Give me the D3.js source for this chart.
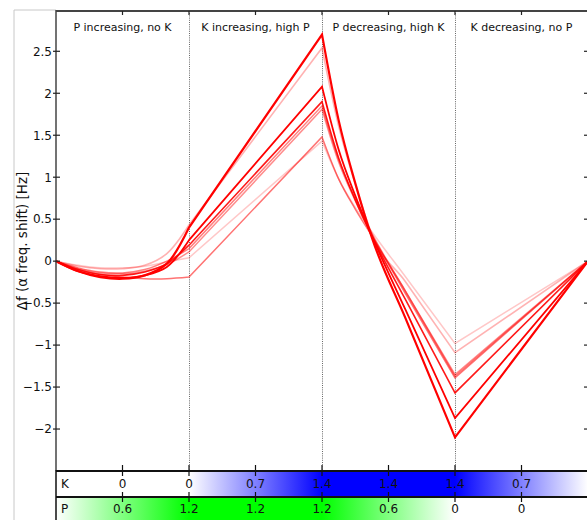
<!DOCTYPE html>
<html><head><meta charset="utf-8">
<script src="https://cdn.jsdelivr.net/npm/d3@7"></script>
<style>body{margin:0;background:#fff;}svg{display:block;font-family:"DejaVu Sans",sans-serif;}</style>
</head><body><svg id="c" width="587" height="520"></svg>
<script>
// ---- data ----
const phaseLabels = ["P increasing, no K","K increasing, high P","P decreasing, high K","K decreasing, no P"];
const stepT = [0,1,2,3,4,5,6,7,8];
const kValues = [0,0,0,0.7,1.4,1.4,1.4,0.7,0];
const pValues = [0,0.6,1.2,1.2,1.2,0.6,0,0,0];
const labelSteps = [1,2,3,4,5,6,7];
const yTicks = [-2,-1.5,-1,-0.5,0,0.5,1,1.5,2,2.5];
// segment 1 sampled at t = 0, 1/3, 2/3, 1, 4/3, 5/3, 2
const seg1T = [0,1/3,2/3,1,4/3,5/3,2];
const seriesNames = ["A","B","C","D","E","F","G","H"];
const seg1Values = [
  [0,-0.12,-0.19,-0.21,-0.17,-0.03,0.40],
  [0,-0.06,-0.09,-0.09,-0.05,0.09,0.43],
  [0,-0.12,-0.18,-0.20,-0.17,-0.07,0.25],
  [0,-0.10,-0.16,-0.17,-0.13,-0.03,0.19],
  [0,-0.08,-0.13,-0.14,-0.10,0.00,0.15],
  [0,-0.09,-0.14,-0.15,-0.12,-0.04,0.11],
  [0,-0.05,-0.08,-0.08,-0.06,-0.01,0.04],
  [0,-0.10,-0.16,-0.19,-0.21,-0.21,-0.19]
];
const peakValues = [2.70,2.54,2.08,1.90,1.85,1.81,1.43,1.48];
// segment 3 sampled at t = 4.25, 4.5, 4.75, 5.25
const seg3T = [4.25,4.5,4.75,5.25];
const seg3Values = [
  [1.68,0.93,0.28,-0.67],
  [1.61,0.92,0.32,-0.24],
  [1.33,0.78,0.30,-0.57],
  [1.23,0.73,0.30,-0.45],
  [1.21,0.74,0.33,-0.35],
  [1.18,0.72,0.31,-0.35],
  [0.98,0.64,0.35,-0.18],
  [0.98,0.62,0.30,-0.38]
];
const troughValues = [-2.10,-1.09,-1.87,-1.57,-1.37,-1.35,-0.98,-1.39];
const endValues = [0,0,0,0,0,0,0,0];
const seriesOpacity = [1,0.3,1,0.9,0.5,0.45,0.22,0.55];
const seriesWidth = [2.2,1.6,1.8,1.6,1.5,1.5,1.5,1.5];

// ---- layout ----
const svg = d3.select("#c");
const L=56, R=588, T=11, B=471;
const x = d3.scaleLinear().domain([0,8]).range([L,R]);
const y = d3.scaleLinear().domain([-2.5,2.98]).range([B,T]);

// outer light frame
svg.append("path").attr("d",`M14,520 V10 H${L}`).attr("fill","none").attr("stroke","#c8c8c8").attr("stroke-width",1);

// dotted phase dividers
[2,4,6].forEach(t=>{
  svg.append("line").attr("x1",x(t)+0.5).attr("x2",x(t)+0.5).attr("y1",T).attr("y2",B)
    .attr("stroke","#666").attr("stroke-width",1).attr("stroke-dasharray","1,1.2");
});

// phase labels
phaseLabels.forEach((lab,i)=>{
  svg.append("text").attr("x",x(2*i+1)).attr("y",30.5).attr("text-anchor","middle")
    .attr("font-size",11).attr("fill","#111").text(lab);
});

// series lines
const lineCurve = d3.line().x(d=>x(d[0])).y(d=>y(d[1])).curve(d3.curveCatmullRom.alpha(0.5));
const lineMono = d3.line().x(d=>x(d[0])).y(d=>y(d[1])).curve(d3.curveMonotoneX);
const lineLin = d3.line().x(d=>x(d[0])).y(d=>y(d[1]));
const order = d3.range(seriesNames.length).sort((a,b)=>seriesOpacity[a]-seriesOpacity[b]);
const g = svg.append("g");
order.forEach(i=>{
  const s1 = seg1T.map((t,j)=>[t,seg1Values[i][j]]);
  const s2 = [[2,seg1Values[i][6]],[4,peakValues[i]]];
  const s3 = [[4,peakValues[i]]].concat(seg3T.map((t,j)=>[t,seg3Values[i][j]]),[[6,troughValues[i]]]);
  const s4 = [[6,troughValues[i]],[8,endValues[i]]];
  const d = lineCurve(s1) + lineLin(s2).replace(/^M/,"L") + lineMono(s3).replace(/^M/,"L") + lineLin(s4).replace(/^M/,"L");
  g.append("path").attr("d",d)
    .attr("fill","none").attr("stroke","#ff0000").attr("stroke-opacity",seriesOpacity[i])
    .attr("stroke-width",seriesWidth[i]).attr("stroke-linejoin","miter");
});

// axes lines
svg.append("line").attr("x1",L).attr("x2",R).attr("y1",T).attr("y2",T).attr("stroke","#444").attr("stroke-width",2);
svg.append("line").attr("x1",L).attr("x2",L).attr("y1",T-1).attr("y2",B).attr("stroke","#444").attr("stroke-width",1.5);

// left / right ticks + labels
yTicks.forEach(v=>{
  svg.append("line").attr("x1",L-3).attr("x2",L+4).attr("y1",y(v)).attr("y2",y(v)).attr("stroke","#222").attr("stroke-width",1.2);
  svg.append("line").attr("x1",R-4).attr("x2",R).attr("y1",y(v)).attr("y2",y(v)).attr("stroke","#222").attr("stroke-width",1.2);
  svg.append("text").attr("x",L-4).attr("y",y(v)).attr("dy","0.36em").attr("text-anchor","end")
    .attr("font-size",12).attr("fill","#111").text(d3.format("")(v));
});
// top ticks
[1,2,3,4,5,6,7].forEach(t=>{
  svg.append("line").attr("x1",x(t)).attr("x2",x(t)).attr("y1",T).attr("y2",T+4).attr("stroke","#222").attr("stroke-width",1.2);
});

// y label
svg.append("text").attr("transform",`translate(27,${(T+B)/2}) rotate(-90)`).attr("text-anchor","middle")
  .attr("font-size",13.5).attr("fill","#111").text("\u0394f (\u03b1 freq. shift) [Hz]");

// ---- colour bars ----
const defs = svg.append("defs");
function grad(id, vals, maxV, col){
  const gr = defs.append("linearGradient").attr("id",id).attr("gradientUnits","userSpaceOnUse")
    .attr("x1",x(0)).attr("x2",x(8)).attr("y1",0).attr("y2",0);
  const ci = d3.interpolateRgb("#ffffff",col);
  stepT.forEach((t,i)=>{
    gr.append("stop").attr("offset",t/8).attr("stop-color",ci(vals[i]/maxV));
  });
}
grad("gk",kValues,1.4,"#0000ff");
grad("gp",pValues,1.2,"#00ff00");
const barK = {y0:471,y1:497}, barP={y0:497,y1:524};
svg.append("rect").attr("x",L).attr("y",barK.y0).attr("width",R-L).attr("height",barK.y1-barK.y0).attr("fill","url(#gk)");
svg.append("rect").attr("x",L).attr("y",barP.y0).attr("width",R-L).attr("height",barP.y1-barP.y0).attr("fill","url(#gp)");
svg.append("path").attr("d",`M${R},${barK.y0} H${L} V524`).attr("fill","none").attr("stroke","#111").attr("stroke-width",1.5);
[barK.y0,barK.y1].forEach(yy=>svg.append("line").attr("x1",L).attr("x2",R).attr("y1",yy).attr("y2",yy).attr("stroke","#111").attr("stroke-width",2));
svg.append("text").attr("x",61).attr("y",(barK.y0+barK.y1)/2).attr("dy","0.36em").attr("font-size",12).attr("fill","#111").text("K");
svg.append("text").attr("x",61).attr("y",(barP.y0+barP.y1)/2-2).attr("dy","0.36em").attr("font-size",12).attr("fill","#111").text("P");
labelSteps.forEach(t=>{
  const xx = x(t);
  [[barK.y0-6,barK.y0+5],[barK.y1-5,barK.y1+5]].forEach(([a,b])=>
    svg.append("line").attr("x1",xx).attr("x2",xx).attr("y1",a).attr("y2",b).attr("stroke","#111").attr("stroke-width",1.2));
  svg.append("text").attr("x",xx).attr("y",(barK.y0+barK.y1)/2).attr("dy","0.36em").attr("text-anchor","middle")
    .attr("font-size",12).attr("fill","#111").text(kValues[t]);
  svg.append("text").attr("x",xx).attr("y",(barP.y0+barP.y1)/2-2).attr("dy","0.36em").attr("text-anchor","middle")
    .attr("font-size",12).attr("fill","#111").text(pValues[t]);
});
</script></body></html>
